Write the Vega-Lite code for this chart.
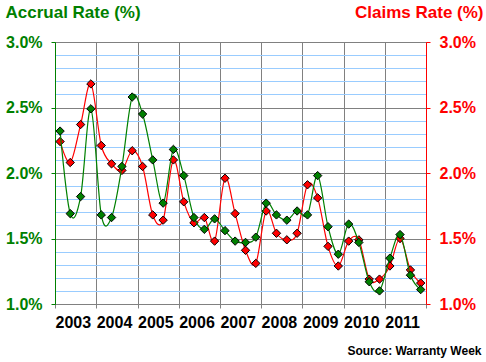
{
  "$schema": "https://vega.github.io/schema/vega-lite/v6.json",
  "width": 371,
  "height": 262,
  "autosize": "none",
  "padding": {"left": 55, "top": 42, "right": 60, "bottom": 58},
  "background": "white",
  "config": {
    "view": {"stroke": "#808080", "strokeWidth": 1},
    "font": "Liberation Sans",
    "axis": {"labelFont": "Liberation Sans", "titleFont": "Liberation Sans"}
  },
  "data": {
    "values": [
      {"date": "2003-02-15", "accrual": 2.32, "claims": 2.24},
      {"date": "2003-05-16", "accrual": 1.69, "claims": 2.08},
      {"date": "2003-08-16", "accrual": 1.82, "claims": 2.37},
      {"date": "2003-11-15", "accrual": 2.49, "claims": 2.68},
      {"date": "2004-02-15", "accrual": 1.68, "claims": 2.21},
      {"date": "2004-05-16", "accrual": 1.66, "claims": 2.07},
      {"date": "2004-08-16", "accrual": 2.05, "claims": 2.02},
      {"date": "2004-11-15", "accrual": 2.58, "claims": 2.17},
      {"date": "2005-02-15", "accrual": 2.45, "claims": 2.05},
      {"date": "2005-05-16", "accrual": 2.10, "claims": 1.68},
      {"date": "2005-08-16", "accrual": 1.77, "claims": 1.64},
      {"date": "2005-11-15", "accrual": 2.18, "claims": 2.10},
      {"date": "2006-02-15", "accrual": 1.98, "claims": 1.78},
      {"date": "2006-05-16", "accrual": 1.66, "claims": 1.62},
      {"date": "2006-08-16", "accrual": 1.57, "claims": 1.66},
      {"date": "2006-11-15", "accrual": 1.65, "claims": 1.48},
      {"date": "2007-02-15", "accrual": 1.56, "claims": 1.96},
      {"date": "2007-05-16", "accrual": 1.48, "claims": 1.69},
      {"date": "2007-08-16", "accrual": 1.47, "claims": 1.41},
      {"date": "2007-11-15", "accrual": 1.51, "claims": 1.31},
      {"date": "2008-02-15", "accrual": 1.77, "claims": 1.71},
      {"date": "2008-05-16", "accrual": 1.68, "claims": 1.54},
      {"date": "2008-08-16", "accrual": 1.64, "claims": 1.49},
      {"date": "2008-11-15", "accrual": 1.71, "claims": 1.54},
      {"date": "2009-02-15", "accrual": 1.68, "claims": 1.91},
      {"date": "2009-05-16", "accrual": 1.98, "claims": 1.81},
      {"date": "2009-08-16", "accrual": 1.59, "claims": 1.44},
      {"date": "2009-11-15", "accrual": 1.38, "claims": 1.29},
      {"date": "2010-02-15", "accrual": 1.61, "claims": 1.48},
      {"date": "2010-05-16", "accrual": 1.47, "claims": 1.49},
      {"date": "2010-08-16", "accrual": 1.17, "claims": 1.19},
      {"date": "2010-11-15", "accrual": 1.10, "claims": 1.19},
      {"date": "2011-02-15", "accrual": 1.35, "claims": 1.29},
      {"date": "2011-05-16", "accrual": 1.53, "claims": 1.50},
      {"date": "2011-08-16", "accrual": 1.22, "claims": 1.26},
      {"date": "2011-11-15", "accrual": 1.11, "claims": 1.16}
    ]
  },
  "encoding": {
    "x": {
      "field": "date",
      "type": "temporal",
      "scale": {
        "type": "utc",
        "domain": [
          {"year": 2003, "month": 1, "date": 1, "utc": true},
          {"year": 2012, "month": 1, "date": 1, "utc": true}
        ]
      },
      "axis": {
        "values": [
          {"year": 2003, "month": 1, "date": 1, "utc": true},
          {"year": 2004, "month": 1, "date": 1, "utc": true},
          {"year": 2005, "month": 1, "date": 1, "utc": true},
          {"year": 2006, "month": 1, "date": 1, "utc": true},
          {"year": 2007, "month": 1, "date": 1, "utc": true},
          {"year": 2008, "month": 1, "date": 1, "utc": true},
          {"year": 2009, "month": 1, "date": 1, "utc": true},
          {"year": 2010, "month": 1, "date": 1, "utc": true},
          {"year": 2011, "month": 1, "date": 1, "utc": true},
          {"year": 2012, "month": 1, "date": 1, "utc": true}
        ],
        "grid": true,
        "gridColor": "#808080",
        "gridWidth": 1,
        "domainColor": "#808080",
        "tickColor": "#808080",
        "tickSize": 4,
        "labelExpr": "utcyear(datum.value) >= 2012 ? '' : utcFormat(datum.value, '%Y')",
        "labelAlign": "left",
        "labelDx": -3,
        "labelFontSize": 16,
        "labelFontWeight": "bold",
        "labelColor": "black",
        "labelPadding": 6,
        "labelFlush": false,
        "labelOverlap": false,
        "labelBound": false,
        "title": "Source: Warranty Week",
        "titleX": 426,
        "titleY": 50,
        "titleAlign": "right",
        "titleAnchor": null,
        "titleBaseline": "alphabetic",
        "titleFontSize": 12,
        "titleFontWeight": "bold",
        "titleColor": "black"
      }
    }
  },
  "layer": [
    {
      "encoding": {
        "y": {
          "field": "claims",
          "type": "quantitative",
          "scale": {"domain": [1, 3], "nice": false, "zero": false},
          "axis": {
            "orient": "right",
            "values": [1, 1.5, 2, 2.5, 3],
            "grid": false,
            "labelExpr": "format(datum.value, '.1f') + '%'",
            "domainColor": "#FF0000",
            "tickColor": "#FF0000",
            "tickSize": 4,
            "labelColor": "#FF0000",
            "labelFontSize": 16,
            "labelFontWeight": "bold",
            "labelPadding": 9,
            "labelFlush": false,
            "labelOverlap": false,
            "labelBound": false,
            "title": "Claims Rate (%)",
            "titleColor": "#FF0000",
            "titleFontSize": 17,
            "titleFontWeight": "bold",
            "titleAngle": 0,
            "titleX": 57,
            "titleY": -25,
            "titleAlign": "right",
            "titleAnchor": null,
            "titleBaseline": "alphabetic"
          }
        }
      },
      "layer": [
        {"mark": {"type": "line", "color": "#FF0000", "strokeWidth": 1.2, "interpolate": "cardinal"}},
        {"mark": {"type": "point", "shape": "diamond", "filled": true, "fill": "#FF0000", "stroke": "black", "strokeWidth": 1, "size": 70, "opacity": 1}}
      ]
    },
    {
      "encoding": {
        "y": {
          "field": "accrual",
          "type": "quantitative",
          "scale": {"domain": [1, 3], "nice": false, "zero": false},
          "axis": {
            "orient": "left",
            "values": [1, 1.1, 1.2, 1.3, 1.4, 1.5, 1.6, 1.7, 1.8, 1.9, 2, 2.1, 2.2, 2.3, 2.4, 2.5, 2.6, 2.7, 2.8, 2.9, 3],
            "grid": true,
            "gridColor": {"condition": {"test": "abs(datum.value*2 - round(datum.value*2)) < 0.01", "value": "#808080"}, "value": "#99CCFF"},
            "gridWidth": 1,
            "tickOpacity": {"condition": {"test": "abs(datum.value*2 - round(datum.value*2)) < 0.01", "value": 1}, "value": 0},
            "labelExpr": "abs(datum.value*2 - round(datum.value*2)) < 0.01 ? format(datum.value, '.1f') + '%' : ''",
            "domainColor": "#008000",
            "tickColor": "#008000",
            "tickSize": 4,
            "labelColor": "#008000",
            "labelFontSize": 16,
            "labelFontWeight": "bold",
            "labelPadding": 9,
            "labelFlush": false,
            "labelOverlap": false,
            "labelBound": false,
            "title": "Accrual Rate (%)",
            "titleColor": "#008000",
            "titleFontSize": 17,
            "titleFontWeight": "bold",
            "titleAngle": 0,
            "titleX": -50,
            "titleY": -25,
            "titleAlign": "left",
            "titleAnchor": null,
            "titleBaseline": "alphabetic"
          }
        }
      },
      "layer": [
        {"mark": {"type": "line", "color": "#008000", "strokeWidth": 1.2, "interpolate": "cardinal"}},
        {"mark": {"type": "point", "shape": "diamond", "filled": true, "fill": "#008000", "stroke": "black", "strokeWidth": 1, "size": 70, "opacity": 1}}
      ]
    }
  ],
  "resolve": {"scale": {"y": "independent"}}
}
